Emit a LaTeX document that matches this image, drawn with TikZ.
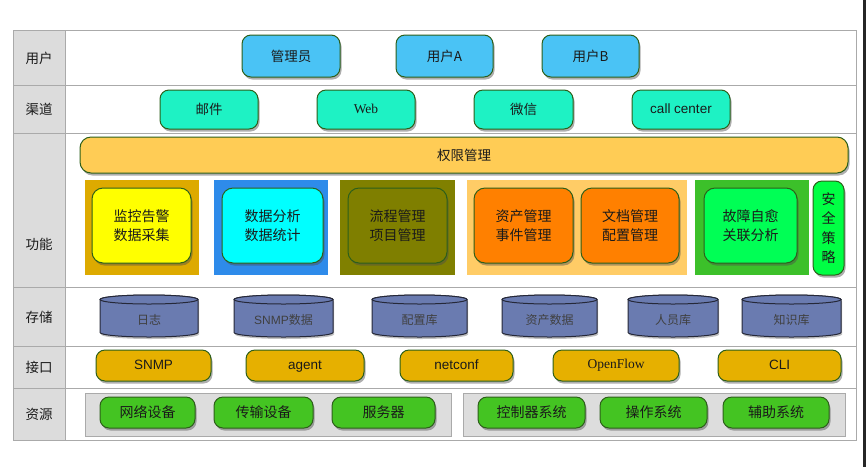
\documentclass[tikz,border=0pt]{standalone}
\usepackage{fontspec}
\setmainfont{Noto Sans CJK SC}
\newfontfamily\latf{Liberation Sans}
\newfontfamily\serf{Liberation Serif}
\usetikzlibrary{shadows}
\definecolor{gridc}{HTML}{AAAAAA}
\definecolor{labc}{HTML}{DCDCDC}
\definecolor{bordc}{HTML}{2D5F1A}
\definecolor{userc}{HTML}{4AC3F5}
\definecolor{chanc}{HTML}{1EF2C4}
\definecolor{permc}{HTML}{FFCC55}
\definecolor{bgA}{HTML}{DDAA00}
\definecolor{inA}{HTML}{FFFF00}
\definecolor{bgB}{HTML}{2E8BEA}
\definecolor{inB}{HTML}{00FFFF}
\definecolor{bgC}{HTML}{808000}
\definecolor{inC}{HTML}{7F7F00}
\definecolor{bgD}{HTML}{FFCC66}
\definecolor{inD}{HTML}{FF8000}
\definecolor{bgE}{HTML}{3CC02A}
\definecolor{inE}{HTML}{00FF55}
\definecolor{secc}{HTML}{00FF44}
\definecolor{cylc}{HTML}{6A7BB0}
\definecolor{cylb}{HTML}{252838}
\definecolor{ifc}{HTML}{E6B000}
\definecolor{grpc}{HTML}{DDDDDD}
\definecolor{resc}{HTML}{44C422}
\definecolor{txtc}{HTML}{1A1A1A}
\tikzset{
  rbox/.style={draw=bordc, line width=1pt, rounded corners=9pt, text=txtc,
    font=\fontsize{13.5}{16}\selectfont, inner sep=0pt,
    drop shadow={shadow xshift=1.5pt, shadow yshift=-2.5pt, opacity=0.45, fill=black!70}},
  lattext/.style={text height=0.72em, text depth=0pt},
  userbox/.style={rbox, fill=userc, minimum width=97pt, minimum height=42pt},
  chanbox/.style={rbox, fill=chanc, minimum width=98pt, minimum height=39pt},
  funbox/.style={rbox, rounded corners=11pt, minimum height=75pt, align=center,
    font=\fontsize{14}{19.5}\selectfont},
  bgsq/.style={draw=none, inner sep=0pt, minimum height=95pt},
  ifbox/.style={rbox, fill=ifc, minimum height=31pt},
  resbox/.style={rbox, fill=resc, minimum height=31pt, font=\fontsize{14}{16}\selectfont},
  grp/.style={draw=gridc, line width=0.8pt, fill=grpc, inner sep=0pt},
  rowlab/.style={font=\fontsize{13.5}{16}\selectfont, text=txtc},
  cylbody/.style={draw=cylb, line width=1pt, fill=cylc,
    drop shadow={shadow xshift=1pt, shadow yshift=-2pt, opacity=0.35, fill=black!70}},
  cyltop/.style={draw=cylb, line width=1pt, fill=cylc},
  cyltext/.style={font=\fontsize{12}{14}\selectfont, text=black!75, inner sep=0pt}
}
\newcommand\mycyl[6]{%
  \pgfmathsetmacro\cxa{(#2+#3)/2}\pgfmathsetmacro\rxa{(#3-#2)/2}%
  \draw[cylbody] (#2,#4+4.5) -- (#2,#5-4.5)
     arc[start angle=180,end angle=360,x radius=\rxa pt,y radius=4.5pt]
     -- (#3,#4+4.5)
     arc[start angle=0,end angle=180,x radius=\rxa pt,y radius=4.5pt] -- cycle;
  \draw[cyltop] (\cxa,#4+4.5) ellipse[x radius=\rxa pt, y radius=4.5pt];
  \node[cyltext] (#1) at (\cxa,{(#4+#5)/2+3.5}) {#6};
}
\begin{document}
\begin{tikzpicture}[x=1pt,y=-1pt]
\useasboundingbox (0,0) rectangle (866,467);
\fill[white] (0,0) rectangle (866,467);
% dark edge at right
\fill[black!85] (862.5,0) rectangle (866,467);
% table
\fill[labc] (13,30) rectangle (65,440);
\draw[gridc, line width=1pt] (13,30) rectangle (856,440);
\draw[gridc, line width=1pt] (65,30) -- (65,440);
\foreach \yy in {85,133,287,346,388} \draw[gridc, line width=1pt] (13,\yy) -- (856,\yy);
% row labels
\node[rowlab] (l1) at (39,58) {用户};
\node[rowlab] (l2) at (39,109.5) {渠道};
\node[rowlab] (l3) at (39,244.5) {功能};
\node[rowlab] (l4) at (39,317) {存储};
\node[rowlab] (l5) at (39,367.5) {接口};
\node[rowlab] (l6) at (39,414.5) {资源};
% users
\node[userbox, minimum width=98pt] (u1) at (291,56) {管理员};
\node[userbox] (u2) at (444.5,56) {用户A};
\node[userbox] (u3) at (590.5,56) {用户B};
% channels
\node[chanbox] (c1) at (209,109.5) {邮件};
\node[chanbox, lattext] (c2) at (366,109.5) {\serf Web};
\node[chanbox, minimum width=99pt] (c3) at (523.5,109.5) {微信};
\node[chanbox, lattext] (c4) at (681,109.5) {\latf call center};
% permission
\node[rbox, fill=permc, rounded corners=11pt, minimum width=768pt, minimum height=36pt] (perm) at (464,155) {权限管理};
% function background squares
\node[bgsq, fill=bgA, minimum width=114pt] (bA) at (142,227.5) {};
\node[bgsq, fill=bgB, minimum width=114pt] (bB) at (271,227.5) {};
\node[bgsq, fill=bgC, minimum width=115pt] (bC) at (397.5,227.5) {};
\node[bgsq, fill=bgD, minimum width=220pt] (bD) at (577,227.5) {};
\node[bgsq, fill=bgE, minimum width=114pt] (bE) at (752,227.5) {};
% function nodes
\node[funbox, fill=inA, minimum width=99pt] (f1) at (141.5,225.5) {监控告警\\数据采集};
\node[funbox, fill=inB, minimum width=101pt] (f2) at (272.5,225.5) {数据分析\\数据统计};
\node[funbox, fill=inC, minimum width=99pt] (f3) at (397.5,225.5) {流程管理\\项目管理};
\node[funbox, fill=inD, minimum width=99pt] (f4) at (523.5,225.5) {资产管理\\事件管理};
\node[funbox, fill=inD, minimum width=98pt] (f5) at (630,225.5) {文档管理\\配置管理};
\node[funbox, fill=inE, minimum width=93pt] (f6) at (750.5,225.5) {故障自愈\\关联分析};
\node[funbox, fill=secc, rounded corners=9pt, minimum width=31pt, minimum height=94pt,
  font=\fontsize{14}{19.3}\selectfont] (sec) at (828.5,228) {安\\全\\策\\略};
% storage
\mycyl{s1}{100}{198}{295}{337}{日志}
\mycyl{s2}{234}{333}{295}{337}{\latf SNMP\rmfamily 数据}
\mycyl{s3}{372}{467}{295}{337}{配置库}
\mycyl{s4}{502}{597}{295}{337}{资产数据}
\mycyl{s5}{628}{718}{295}{337}{人员库}
\mycyl{s6}{742}{841}{295}{337}{知识库}
% interfaces
\node[ifbox, lattext, minimum width=115pt] (i1) at (153.5,365.5) {\latf SNMP};
\node[ifbox, lattext, minimum width=118pt] (i2) at (305,365.5) {\latf agent};
\node[ifbox, lattext, minimum width=113pt] (i3) at (456.5,365.5) {\latf netconf};
\node[ifbox, minimum width=126pt] (i4) at (616,365.5) {\serf OpenFlow};
\node[ifbox, lattext, minimum width=123pt] (i5) at (779.5,365.5) {\latf CLI};
% resource groups
\node[grp, minimum width=366pt, minimum height=43pt] (g1) at (268,414.5) {};
\node[grp, minimum width=382pt, minimum height=43pt] (g2) at (654,414.5) {};
% resources
\node[resbox, minimum width=95pt] (r1) at (147.5,412.5) {网络设备};
\node[resbox, minimum width=99pt] (r2) at (263.5,412.5) {传输设备};
\node[resbox, minimum width=103pt] (r3) at (383.5,412.5) {服务器};
\node[resbox, minimum width=107pt] (r4) at (531.5,412.5) {控制器系统};
\node[resbox, minimum width=107pt] (r5) at (653.5,412.5) {操作系统};
\node[resbox, minimum width=106pt] (r6) at (776,412.5) {辅助系统};
\end{tikzpicture}
\end{document}
